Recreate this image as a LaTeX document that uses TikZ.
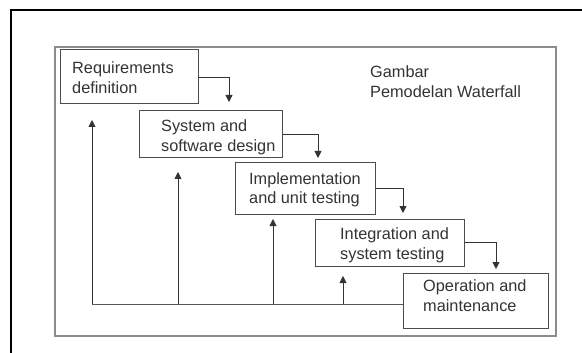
\documentclass[tikz,border=0pt]{standalone}
\usepackage{fontspec}
\setmainfont{Liberation Sans}
\usetikzlibrary{arrows.meta}
\begin{document}
\begin{tikzpicture}[x=1pt,y=-1pt,
    stage/.style={draw=black!70,line width=1pt,inner sep=0pt},
    lbl/.style={anchor=base west,align=left,inner sep=0pt,text=black!80,
      font=\fontsize{16.3}{20}\selectfont},
    flow/.style={draw=black!80,line width=.9pt,-{Triangle[width=7pt,length=7pt]}},
    back/.style={draw=black!65,line width=.9pt}]
  \useasboundingbox (0,0) rectangle (582,353);
  % frames
  \draw[line width=1.2pt] (11,353) -- (11,10) -- (582,10);
  \draw[black!45,line width=1.5pt] (55,47) rectangle (556,336);
  % stages
  \node[stage,minimum width=138pt,minimum height=54pt] (req) at (129,77) {};
  \node[stage,minimum width=143pt,minimum height=47pt] (sys) at (210.5,134.5) {};
  \node[stage,minimum width=140pt,minimum height=51pt] (impl) at (305,188.5) {};
  \node[stage,minimum width=149pt,minimum height=47pt] (integ) at (389.5,242.5) {};
  \node[stage,minimum width=145pt,minimum height=55pt] (ops) at (475.5,300.5) {};
  % texts (base = last line)
  \node[lbl] (reqtext) at (72,94) {Requirements\\definition};
  \node[lbl] (systext) at (161,151) {System and\\software design};
  \node[lbl] (impltext) at (249,204) {Implementation\\and unit testing};
  \node[lbl] (integtext) at (340,259) {Integration and\\system testing};
  \node[lbl] (opstext) at (423,311) {Operation and\\maintenance};
  \node[lbl] (title) at (370,98) {Gambar\\Pemodelan Waterfall};
  % going down
  \coordinate (t1) at (229,102);
  \coordinate (t2) at (318,158);
  \coordinate (t3) at (403,213);
  \coordinate (t4) at (496,269);
  \draw[flow] (req.east) -| (t1);
  \draw[flow] (sys.east) -| (t2);
  \draw[flow] (impl.east) -| (t3);
  \draw[flow] (integ.east) -| (t4);
  % going back
  \coordinate (loop) at (92,304);
  \draw[back] (ops.west |- loop) -- (loop);
  \draw[flow] (loop) -- (92,120);
  \draw[flow] (178,304) -- (178,172);
  \draw[flow] (273,304) -- (273,219);
  \draw[flow] (343,304) -- (343,276);
\end{tikzpicture}
\end{document}
